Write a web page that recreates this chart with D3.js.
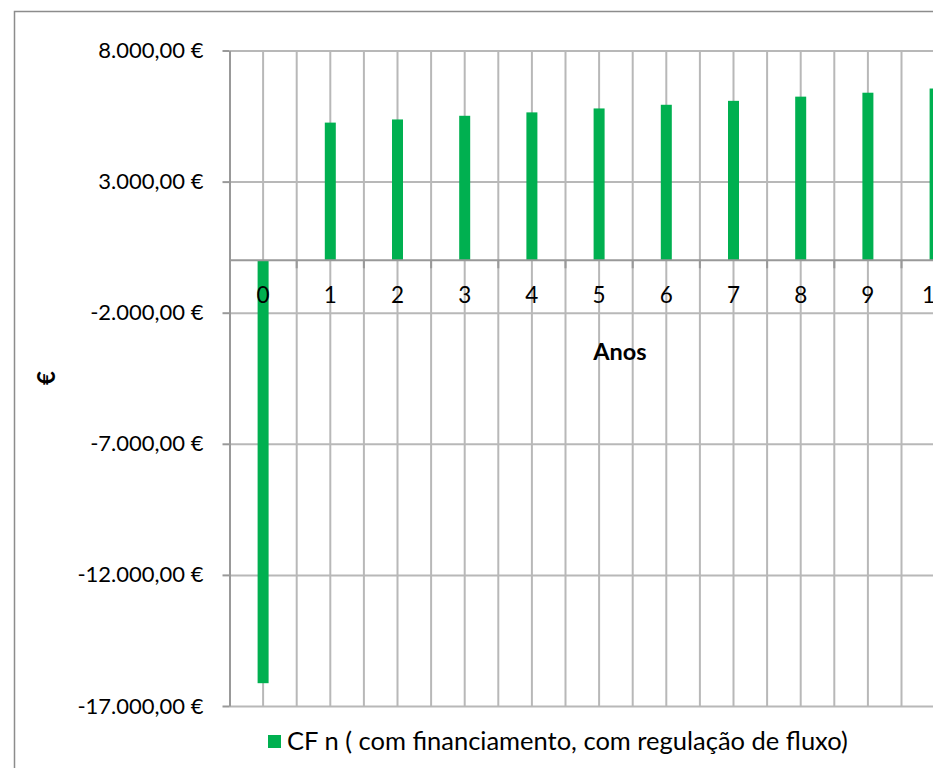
<!DOCTYPE html>
<html>
<head>
<meta charset="utf-8">
<script src="https://cdn.jsdelivr.net/npm/d3@7"></script>
<style>
  body { margin: 0; background: #fff; overflow: hidden; }
  svg { display: block; font-family: Lato, "Open Sans", sans-serif; }
</style>
</head>
<body>
<main></main>
<script>
// data
const anos = [0, 1, 2, 3, 4, 5, 6, 7, 8, 9, 10];
const cfValues = [-16130, 5250, 5370, 5510, 5640, 5790, 5930, 6080, 6240, 6390, 6550];
const yTicks = [8000, 3000, -2000, -7000, -12000, -17000];
const serieNome = "CF n ( com financiamento, com regulação de fluxo)";

document.addEventListener('DOMContentLoaded', function(){

	const w = 933;
	const h = 768;
	const left = 229.5;
	const top = 50.5;
	const bottom = 706;
	const catW = 67.2;
	const barW = 11;
	const green = "#00b050";
	const gridColor = "#b8b8b8";
	const axisColor = "#999999";

	const pt = d3.formatLocale({
		decimal: ",",
		thousands: ".",
		grouping: [3],
		currency: ["", " €"],
		minus: "-"
	});
	const fmt = pt.format("$,.2f");

	const svg = d3.select("main")
				  .append("svg")
				  .attr("width", w)
				  .attr("height", h);

	//Scales
	const xScale = d3.scaleBand()
					 .domain(anos)
					 .range([left, left + anos.length * catW]);

	const yScale = d3.scaleLinear()
					 .domain([-17000, 8000])
					 .range([bottom, top]);

	//Outer frame (cut by the window on the right and bottom)
	svg.append("rect")
	   .attr("x", 14.5)
	   .attr("y", 11.5)
	   .attr("width", 1200)
	   .attr("height", 1200)
	   .attr("fill", "none")
	   .attr("stroke", "#8c8c8c")
	   .attr("stroke-width", 1.5);

	//Vertical grid: category edges and category centres
	const vLines = [];
	anos.forEach(d => {
		vLines.push(xScale(d));
		vLines.push(xScale(d) + xScale.bandwidth() / 2);
	});
	vLines.push(xScale(anos[anos.length - 1]) + xScale.bandwidth());

	svg.append("g")
	   .selectAll("line")
	   .data(vLines.slice(1))
	   .enter()
	   .append("line")
	   .attr("x1", d => d)
	   .attr("x2", d => d)
	   .attr("y1", top)
	   .attr("y2", bottom)
	   .attr("stroke", gridColor)
	   .attr("stroke-width", 2);

	//Horizontal grid
	const y_grid = d3.axisLeft(yScale)
					 .tickValues(yTicks)
					 .tickSize(-(w - left + 50))
					 .tickFormat("");

	svg.append("g")
	   .attr("transform", "translate(" + left + ",0)")
	   .call(y_grid)
	   .call(g => g.select(".domain").remove())
	   .call(g => g.selectAll("line").attr("stroke", gridColor).attr("stroke-width", 2));

	//Y axis
	const y_axis = d3.axisLeft(yScale)
					 .tickValues(yTicks)
					 .tickSize(7)
					 .tickSizeOuter(0)
					 .tickPadding(19)
					 .tickFormat(fmt);

	svg.append("g")
	   .attr("id", "y-axis")
	   .attr("transform", "translate(" + left + ",0)")
	   .call(y_axis)
	   .call(g => g.select(".domain").attr("stroke", axisColor).attr("stroke-width", 2))
	   .call(g => g.selectAll(".tick line").attr("stroke", axisColor).attr("stroke-width", 2))
	   .call(g => g.selectAll("text")
				   .attr("font-size", "22px")
				   .attr("font-family", "Lato, sans-serif")
				   .attr("fill", "#000"));

	//Bars
	svg.append("g")
	   .selectAll("rect")
	   .data(anos)
	   .enter()
	   .append("rect")
	   .attr("x", (d) => xScale(d) + xScale.bandwidth() / 2 - barW / 2)
	   .attr("y", (d, i) => yScale(Math.max(0, cfValues[i])))
	   .attr("width", barW)
	   .attr("height", (d, i) => Math.abs(yScale(cfValues[i]) - yScale(0)))
	   .attr("fill", green);

	//X axis on the zero line
	const x_axis = d3.axisBottom(xScale)
					 .tickSize(0)
					 .tickPadding(27);

	const xg = svg.append("g")
				  .attr("id", "x-axis")
				  .attr("transform", "translate(0," + yScale(0) + ")")
				  .call(x_axis);
	xg.select(".domain").attr("stroke", axisColor).attr("stroke-width", 2)
	  .attr("d", "M" + left + ",0H" + (left + anos.length * catW));
	xg.selectAll("text")
	  .attr("font-size", "22.5px")
	  .attr("font-family", "Lato, sans-serif")
	  .attr("fill", "#000");

	//tick marks at category edges
	xg.selectAll(".edge")
	  .data(vLines.filter((d, i) => i % 2 === 0 && i > 0))
	  .enter()
	  .append("line")
	  .attr("class", "edge")
	  .attr("x1", d => d)
	  .attr("x2", d => d)
	  .attr("y1", 0)
	  .attr("y2", 8)
	  .attr("stroke", axisColor)
	  .attr("stroke-width", 2);

	//Axis titles
	svg.append("text")
	   .attr("x", 620)
	   .attr("y", 360)
	   .attr("text-anchor", "middle")
	   .attr("font-size", "23.5px")
	   .attr("font-weight", "bold")
	   .text("Anos");

	svg.append("text")
	   .attr("transform", "translate(45,378) rotate(-90)")
	   .attr("text-anchor", "middle")
	   .attr("dominant-baseline", "central")
	   .attr("font-size", "24px")
	   .attr("font-weight", "bold")
	   .text("€");

	//Legend
	svg.append("rect")
	   .attr("x", 268)
	   .attr("y", 735)
	   .attr("width", 13)
	   .attr("height", 13)
	   .attr("fill", green);

	svg.append("text")
	   .attr("x", 287)
	   .attr("y", 750)
	   .attr("font-size", "25.5px")
	   .attr("fill", "#000")
	   .text(serieNome);
});
</script>
</body>
</html>
